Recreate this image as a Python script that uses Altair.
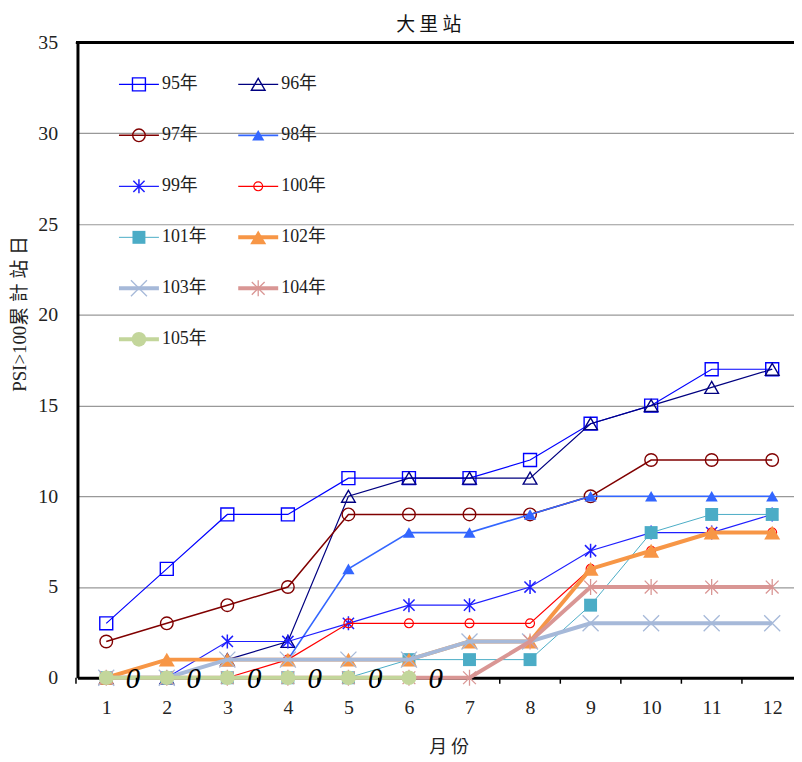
import altair as alt
import pandas as pd

# ---------------- data ----------------
months = list(range(1, 13))
series_names = ["95年", "96年", "97年", "98年", "99年", "100年",
                "101年", "102年", "103年", "104年", "105年"]
v95 = [3, 6, 9, 9, 11, 11, 11, 12, 14, 15, 17, 17]
v96 = [0, 0, 1, 2, 10, 11, 11, 11, 14, 15, 16, 17]
v97 = [2, 3, 4, 5, 9, 9, 9, 9, 10, 12, 12, 12]
v98 = [0, 0, 1, 1, 6, 8, 8, 9, 10, 10, 10, 10]
v99 = [0, 0, 2, 2, 3, 4, 4, 5, 7, 8, 8, 9]
v100 = [0, 0, 0, 1, 3, 3, 3, 3, 6, 7, 8, 8]
v101 = [0, 0, 0, 0, 0, 1, 1, 1, 4, 8, 9, 9]
v102 = [0, 1, 1, 1, 1, 1, 2, 2, 6, 7, 8, 8]
v103 = [0, 0, 1, 1, 1, 1, 2, 2, 3, 3, 3, 3]
v104 = [0, 0, 0, 0, 0, 0, 0, 2, 5, 5, 5, 5]
v105 = [0, 0, 0, 0, 0, 0]
series_values = [v95, v96, v97, v98, v99, v100, v101, v102, v103, v104, v105]
y_ticks = [0, 5, 10, 15, 20, 25, 30, 35]
x_ticks = months
month_bounds = [0.5, 1.5, 2.5, 3.5, 4.5, 5.5, 6.5, 7.5, 8.5, 9.5, 10.5, 11.5]

# ---------------- styles ----------------
colors = ["#0000FF", "#000080", "#800000", "#3366FF", "#1F1FFF", "#FF0000",
          "#4BACC6", "#F79646", "#A6B9D9", "#D99694", "#C3D69B"]
line_w = [1.2, 1.2, 1.5, 1.6, 1.2, 1.2, 1.0, 4.0, 4.0, 4.0, 4.0]
X_PATH = "M-1,-1L1,1M-1,1L1,-1"
STAR_PATH = "M-0.8,-0.8L0.8,0.8M-0.8,0.8L0.8,-0.8M0,-1L0,1"
shapes = ["square", "triangle-up", "circle", "triangle-up", STAR_PATH, "circle",
          "square", "triangle-up", X_PATH, STAR_PATH, "circle"]
filled = [False, False, False, True, False, False, True, True, False, False, True]
sizes = [170, 190, 160, 150, 200, 80, 170, 260, 260, 260, 220]
mk_w = [1.4, 1.4, 1.4, 0, 1.5, 1.2, 0, 0, 1.3, 1.3, 0]

W, H = 722, 640
xs = alt.Scale(domain=[0.5246, 12.36], nice=False, zero=False)
ys = alt.Scale(domain=[0, 35], nice=False, zero=False)
SERIF = "Liberation Serif"
MIX = "Liberation Serif, Noto Sans CJK TC"
CJK = "Noto Sans CJK TC"

x_axis = alt.Axis(values=x_ticks, ticks=False, grid=False, domainColor="black",
                  domainWidth=3, labelFont=SERIF, labelFontSize=20, labelColor="#222",
                  labelPadding=20, title="月 份", titleFont=CJK, titleFontSize=18,
                  titleFontWeight="normal", titleColor="#222", titleX=374, titleY=70,
                  titleAlign="center", titleBaseline="middle")
y_axis = alt.Axis(values=y_ticks, ticks=False, grid=True, gridColor="#999999",
                  gridWidth=1.2, domainColor="black", domainWidth=3, labelFont=SERIF,
                  labelFontSize=20, labelColor="#222", labelPadding=20,
                  title="PSI>100累 計 站 日", titleFont=MIX, titleFontSize=19,
                  titleFontWeight="normal", titleColor="#222", titleX=-58, titleY=273,
                  titleAngle=270, titleAlign="center", titleBaseline="middle")


def X(f):
    return alt.X(f, scale=xs, axis=x_axis)


def Y(f):
    return alt.Y(f, scale=ys, axis=y_axis)


def marker(df, i):
    if filled[i]:
        return alt.Chart(df).mark_point(shape=shapes[i], filled=True, fill=colors[i],
                                        size=sizes[i], opacity=1, strokeWidth=0)
    return alt.Chart(df).mark_point(shape=shapes[i], filled=False, color=colors[i],
                                    size=sizes[i], opacity=1, strokeWidth=mk_w[i])


layers = []
for i, (name, vals) in enumerate(zip(series_names, series_values)):
    df = pd.DataFrame({"month": months[:len(vals)], "value": vals})
    line = alt.Chart(df).mark_line(color=colors[i], strokeWidth=line_w[i]).encode(
        x=X("month:Q"), y=Y("value:Q"))
    pts = marker(df, i).encode(x=X("month:Q"), y=Y("value:Q"))
    layers += [line, pts]

# data labels for 105年
lab_df = pd.DataFrame({"month": months[:len(v105)], "value": v105})
labels = alt.Chart(lab_df).mark_text(font=SERIF, fontSize=29, fontStyle="italic",
                                     color="black", dx=27, dy=1, baseline="middle").encode(
    x=X("month:Q"), y=Y("value:Q"), text=alt.Text("value:Q"))
layers.append(labels)

# legend (positions in data units)
rows = []
for i, name in enumerate(series_names):
    r, c = i // 2, i % 2
    rows.append({"series": name, "x0": 1.21 + c * 1.97, "x1": 1.87 + c * 1.97,
                 "xm": 1.54 + c * 1.97, "xt": 1.92 + c * 1.97, "y": 32.7 - r * 2.81})
leg = pd.DataFrame(rows)
for i, name in enumerate(series_names):
    d = leg[leg["series"] == name]
    layers.append(alt.Chart(d).mark_rule(color=colors[i], strokeWidth=line_w[i]).encode(
        x=X("x0:Q"), x2="x1:Q", y=Y("y:Q")))
    layers.append(marker(d, i).encode(x=X("xm:Q"), y=Y("y:Q")))
layers.append(alt.Chart(leg).mark_text(font=MIX, fontSize=18, align="left",
                                       baseline="middle", color="#222").encode(
    x=X("xt:Q"), y=Y("y:Q"), text="series:N"))

# month boundary ticks under the x axis
bdf = pd.DataFrame({"b": month_bounds})
layers.append(alt.Chart(bdf).mark_rule(color="black", strokeWidth=1.5).encode(
    x=X("b:Q"), y=alt.value(H), y2=alt.value(H + 6)))
# top frame line
layers.append(alt.Chart(bdf).mark_rule(color="black", strokeWidth=3).encode(
    x=alt.value(-1.5), x2=alt.value(W + 10), y=alt.value(0)))

chart = alt.layer(*layers).properties(
    width=W, height=H,
    title=alt.TitleParams("大 里 站", font=CJK, fontSize=19, fontWeight="normal",
                          color="#111", anchor="middle", dx=-7, offset=-2),
    autosize=alt.AutoSizeParams(type="none"),
    padding={"left": 70, "top": 32, "right": 0, "bottom": 82},
).configure_view(stroke=None)

chart.save("out.html", embed_options={"renderer": "svg", "actions": False})
